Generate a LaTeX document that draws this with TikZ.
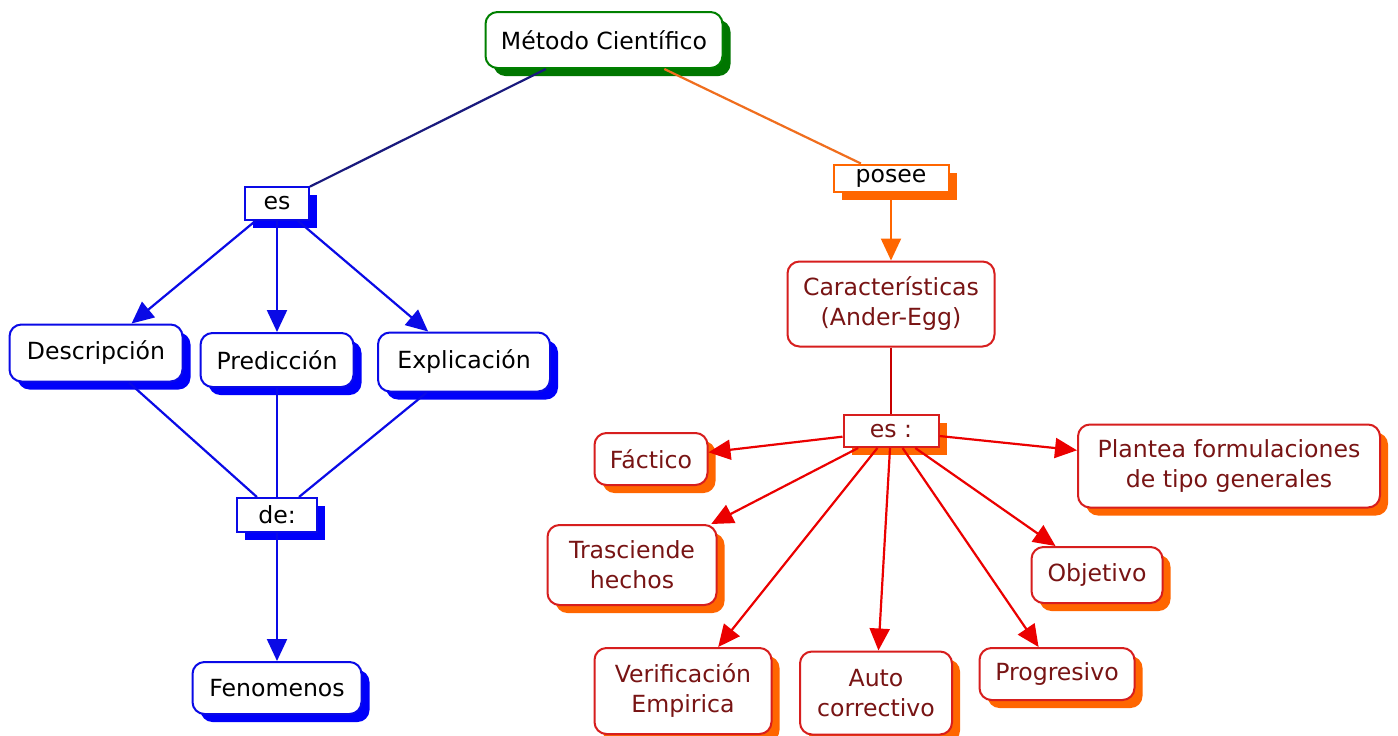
\documentclass[tikz,border=0pt]{standalone}
\usepackage{fontspec}
\setmainfont{DejaVu Sans}
\usetikzlibrary{arrows.meta,shadows}
\definecolor{cblue}{RGB}{10,10,230}
\definecolor{cblueshadow}{RGB}{0,0,250}
\definecolor{cnavy}{RGB}{25,25,125}
\definecolor{cgreen}{RGB}{0,128,0}
\definecolor{cgreenshadow}{RGB}{0,118,0}
\definecolor{corange}{RGB}{255,102,0}
\definecolor{corangeline}{RGB}{240,110,30}
\definecolor{cred}{RGB}{215,30,30}
\definecolor{credarrow}{RGB}{235,0,0}
\definecolor{credline}{RGB}{200,0,0}
\definecolor{credtext}{RGB}{120,20,20}
\tikzset{
  basebox/.style={line width=1pt, fill=white, inner sep=0pt, align=center,
    font=\fontsize{11.8}{15}\selectfont},
  bluebox/.style={basebox, rounded corners=6pt, draw=cblue, text=black,
    drop shadow={shadow xshift=4pt, shadow yshift=-4pt, fill=cblueshadow, opacity=1}},
  bluelab/.style={basebox, draw=cblue, text=black,
    drop shadow={shadow xshift=4pt, shadow yshift=-4pt, fill=cblueshadow, opacity=1}},
  greenbox/.style={basebox, rounded corners=6pt, draw=cgreen, text=black,
    drop shadow={shadow xshift=4pt, shadow yshift=-4pt, fill=cgreenshadow, opacity=1}},
  orangelab/.style={basebox, draw=corange, text=black,
    drop shadow={shadow xshift=4pt, shadow yshift=-4pt, fill=corange, opacity=1}},
  redbox/.style={basebox, rounded corners=6pt, draw=cred, text=credtext,
    drop shadow={shadow xshift=4pt, shadow yshift=-4pt, fill=corange, opacity=1}},
  redplain/.style={basebox, rounded corners=6pt, draw=cred, text=credtext},
  redlab/.style={basebox, draw=cred, text=credtext,
    drop shadow={shadow xshift=4pt, shadow yshift=-4pt, fill=corange, opacity=1}},
  conn/.style={line width=1.1pt},
  arr/.style={conn, -{Triangle[length=11pt,width=10pt]}},
}
\begin{document}
\begin{tikzpicture}[x=0.5pt,y=-0.5pt]
\useasboundingbox[fill=white] (0,0) rectangle (1398,735);

% nodes
\node[greenbox, minimum width=118.5pt, minimum height=28pt] (metodo) at (604,40) {Método Científico};
\node[bluelab, minimum width=32pt, minimum height=16.5pt] (es) at (277,203) {es};
\node[orangelab, minimum width=57.5pt, minimum height=13.5pt] (posee) at (891,178) {posee};
\node[redplain, minimum width=103.5pt, minimum height=42.5pt] (carac) at (891,304) {Características\\(Ander-Egg)};
\node[redlab, minimum width=47.5pt, minimum height=16pt] (esr) at (891,431) {es :};

\node[bluebox, minimum width=86.5pt, minimum height=28.5pt] (desc) at (96,353) {Descripción};
\node[bluebox, minimum width=76.5pt, minimum height=27pt] (pred) at (277,360) {Predicción};
\node[bluebox, minimum width=86pt, minimum height=29.5pt] (expl) at (464,362) {Explicación};
\node[bluelab, minimum width=40pt, minimum height=17pt] (de) at (277,515) {de:};
\node[bluebox, minimum width=84.5pt, minimum height=26pt] (fen) at (277,688) {Fenomenos};

\node[redbox, minimum width=56.5pt, minimum height=26pt] (fact) at (651,459) {Fáctico};
\node[redbox, minimum width=84.5pt, minimum height=40pt] (tras) at (632,565) {Trasciende\\hechos};
\node[redbox, minimum width=88.5pt, minimum height=43pt] (veri) at (683,691) {Verificación\\Empirica};
\node[redbox, minimum width=76pt, minimum height=41.5pt] (auto) at (876,693) {Auto\\correctivo};
\node[redbox, minimum width=77.5pt, minimum height=26pt] (prog) at (1057,674) {Progresivo};
\node[redbox, minimum width=65.5pt, minimum height=28pt] (obj) at (1097,575) {Objetivo};
\node[redbox, minimum width=151pt, minimum height=41.5pt] (plan) at (1229,466) {Plantea formulaciones\\de tipo generales};

% connectors
\draw[conn, cnavy] (metodo) -- (es);
\draw[conn, corangeline] (metodo) -- (posee);
\draw[arr, corange] (posee) -- (carac);

\draw[arr, cblue] (es) -- (desc);
\draw[arr, cblue] (es) -- (pred);
\draw[arr, cblue] (es) -- (expl);
\draw[conn, cblue] (desc) -- (de);
\draw[conn, cblue] (pred) -- (de);
\draw[conn, cblue] (expl) -- (de);
\draw[arr, cblue] (de) -- (fen);

\draw[conn, credline] (carac) -- (esr);
\draw[arr, credarrow] (esr) -- (fact);
\draw[arr, credarrow] (esr) -- (tras);
\draw[arr, credarrow] (esr) -- (veri);
\draw[arr, credarrow] (esr) -- (auto);
\draw[arr, credarrow] (esr) -- (prog);
\draw[arr, credarrow] (esr) -- (obj);
\draw[arr, credarrow] (esr) -- (plan);
\end{tikzpicture}
\end{document}
